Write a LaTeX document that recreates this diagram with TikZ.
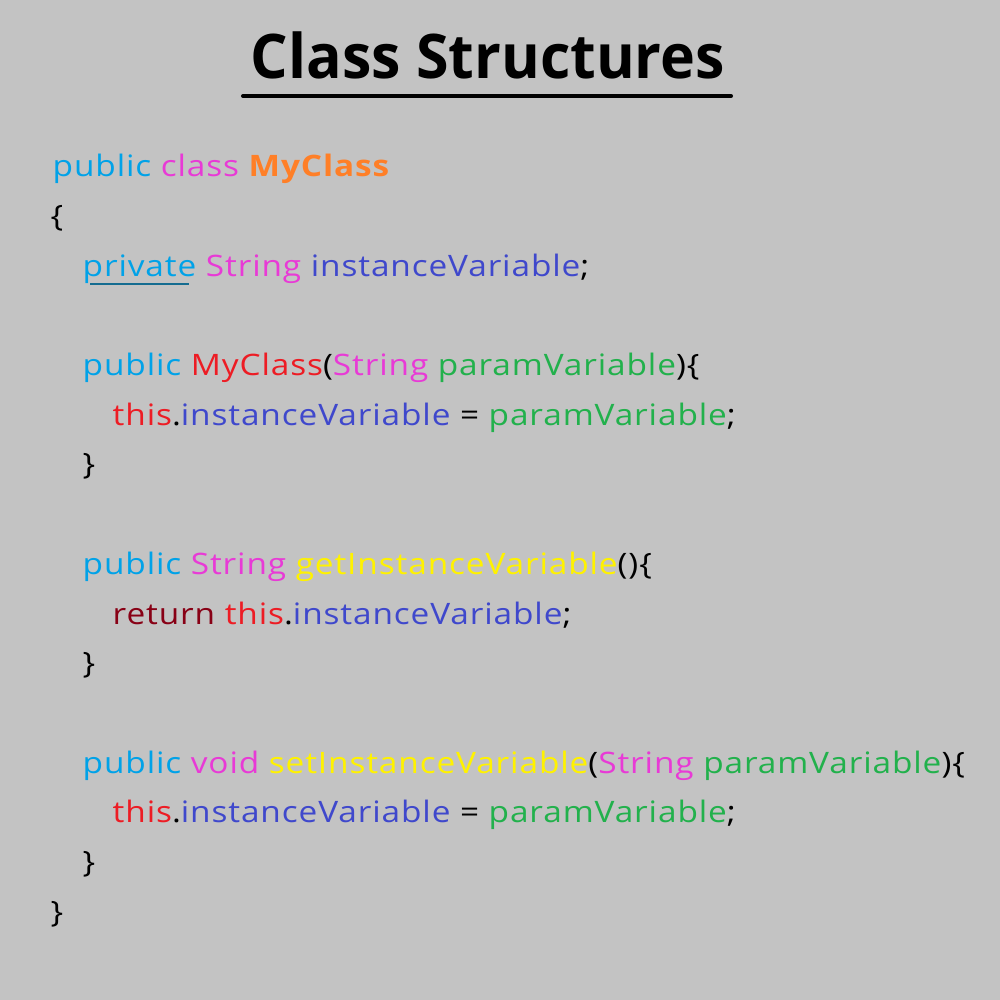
\documentclass[tikz,border=0pt]{standalone}
\usepackage{fontspec}
\setmainfont{Open Sans}[FakeStretch=1.13, LetterSpace=3]
\newfontfamily\titlefam{Open Sans}[FakeStretch=0.96]
\usepackage{xcolor}
\usepackage{tikz}
\usetikzlibrary{positioning}
\definecolor{codebg}{HTML}{C3C3C3}
\definecolor{kwblue}{HTML}{00A2E8}
\definecolor{typepink}{HTML}{E83AD6}
\definecolor{clsorange}{HTML}{FF7F27}
\definecolor{varindigo}{HTML}{3F48CC}
\definecolor{ctorred}{HTML}{ED1C24}
\definecolor{paramgreen}{HTML}{22B14C}
\definecolor{methyellow}{HTML}{FFF200}
\definecolor{retdark}{HTML}{880015}
\definecolor{ulteal}{HTML}{146C90}
\newcommand{\kw}[1]{\textcolor{kwblue}{#1}}
\newcommand{\ty}[1]{\textcolor{typepink}{#1}}
\newcommand{\iv}[1]{\textcolor{varindigo}{#1}}
\newcommand{\rd}[1]{\textcolor{ctorred}{#1}}
\newcommand{\pv}[1]{\textcolor{paramgreen}{#1}}
\newcommand{\mt}[1]{\textcolor{methyellow}{#1}}
\tikzset{
  codefont/.style={font=\fontsize{8.4}{10}\selectfont},
  codeline/.style={codefont, anchor=base west, inner sep=0pt},
  titlefont/.style={font=\titlefam\fontsize{17.5}{21}\selectfont\bfseries},
  titlerule/.style={line width=1.15pt, line cap=round},
  privrule/.style={ulteal, line width=0.8pt},
}
\begin{document}
\begin{tikzpicture}[x=0.01cm, y=-0.01cm]
  % Background
  \path[fill=codebg] (0,0) rectangle (1000,1000);

  % Title
  \node[titlefont, anchor=base, inner sep=0pt] (title) at (488,78) {Class Structures};
  \draw[titlerule] (243,96) -- (731,96);

  % Class header
  \node[codeline] (clshead) at (52,176) {\kw{public} \ty{class} \textcolor{clsorange}{\bfseries MyClass}};
  \node[codeline] (clsopen) at (50,226) {\{};
  \node[codeline] (field) at (82,276) {\kw{private} \ty{String} \iv{instanceVariable};};
  \draw[privrule] (90,284) -- (189,284);

  % Constructor
  \node[codeline] (ctor) at (82,375) {\kw{public} \rd{MyClass}(\ty{String} \pv{paramVariable})\{};
  \node[codeline] (ctorbody) at (112,425) {\rd{this}.\iv{instanceVariable} = \pv{paramVariable};};
  \node[codeline] (ctorclose) at (82,474) {\}};

  % Getter
  \node[codeline] (getter) at (82,574) {\kw{public} \ty{String} \mt{getInstanceVariable}()\{};
  \node[codeline] (getbody) at (112,624) {\textcolor{retdark}{return} \rd{this}.\iv{instanceVariable};};
  \node[codeline] (getclose) at (82,673) {\}};

  % Setter
  \node[codeline] (setter) at (82,773) {\kw{public} \ty{void} \mt{setInstanceVariable}(\ty{String} \pv{paramVariable})\{};
  \node[codeline] (setbody) at (112,822) {\rd{this}.\iv{instanceVariable} = \pv{paramVariable};};
  \node[codeline] (setclose) at (82,872) {\}};

  % Class close
  \node[codeline] (clsclose) at (50,922) {\}};
\end{tikzpicture}
\end{document}
